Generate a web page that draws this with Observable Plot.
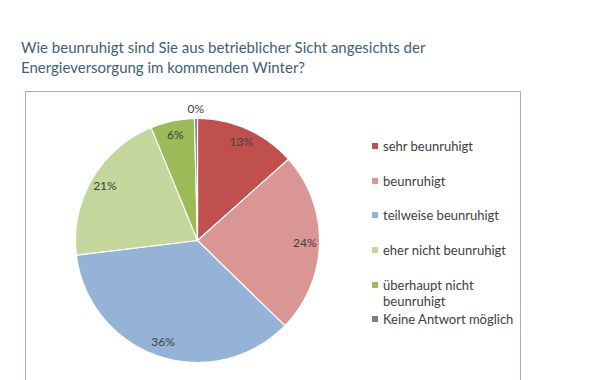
<!DOCTYPE html>
<html>
<head>
<meta charset="utf-8">
<script src="https://cdn.jsdelivr.net/npm/d3@7"></script>
<script src="https://cdn.jsdelivr.net/npm/@observablehq/plot@0.6"></script>
<style>
  html, body { margin: 0; padding: 0; background: #fff; }
  #page { position: relative; width: 600px; height: 380px; overflow: hidden; font-family: Lato, "Open Sans", sans-serif; }
  #title { position: absolute; left: 21px; top: 37px; font-size: 15px; line-height: 20px; color: #3f6175; }
  #box { position: absolute; left: 25px; top: 91px; width: 496px; height: 320px; border: 1px solid #a5adc4; box-sizing: border-box; }
  #chart { position: absolute; left: 0; top: 85px; }
  #legend { position: absolute; left: 372px; top: 138px; width: 150px; font-size: 13px; color: #404040; }
  .item { height: 34.7px; display: flex; align-items: flex-start; line-height: 16px; }
  .sw { width: 6px; height: 6px; flex: none; margin-top: 5px; margin-right: 5px; }
</style>
</head>
<body>
<div id="page">
  <div id="title">Wie beunruhigt sind Sie aus betrieblicher Sicht angesichts der<br>Energieversorgung im kommenden Winter?</div>
  <div id="box"></div>
  <div id="chart"></div>
  <div id="legend"></div>
</div>
<script>
const categories = ["sehr beunruhigt", "beunruhigt", "teilweise beunruhigt", "eher nicht beunruhigt", "überhaupt nicht beunruhigt", "Keine Antwort möglich"];
const values = [13.4, 23.9, 35.8, 20.7, 5.8, 0.4];
const labels = ["13%", "24%", "36%", "21%", "6%", "0%"];
const colors = ["#c0504d", "#d99694", "#95b3d7", "#c3d69b", "#9bbb59", "#7f7f7f"];

const cx = 197, cy = 155, r = 122;
const arcs = d3.pie().sort(null).value(d => d)(values);

const slices = arcs.map((a, i) => {
  const pts = [{x: 0, y: 0}];
  const n = Math.max(2, Math.ceil((a.endAngle - a.startAngle) / 0.01));
  for (let k = 0; k <= n; k++) {
    const t = a.startAngle + (a.endAngle - a.startAngle) * k / n;
    pts.push({x: Math.sin(t), y: Math.cos(t)});
  }
  return Plot.line(pts, {x: "x", y: "y", fill: colors[i], stroke: "#ffffff", strokeWidth: 1.2, curve: "linear-closed"});
});

const labelData = arcs.map((a, i) => {
  const m = (a.startAngle + a.endAngle) / 2;
  const f = values[i] < 2 ? 1.08 : 0.88;
  return {x: Math.sin(m) * f, y: Math.cos(m) * f, text: labels[i]};
});

const chart = Plot.plot({
  width: 600,
  height: 295,
  margin: 0,
  x: {domain: [-1, 1], range: [cx - r, cx + r], axis: null},
  y: {domain: [-1, 1], range: [cy + r, cy - r], axis: null},
  style: {fontFamily: "Lato, 'Open Sans', sans-serif", background: "transparent"},
  marks: [
    ...slices,
    Plot.text(labelData, {x: "x", y: "y", text: "text", fontSize: 12, fill: "#404040"})
  ]
});
document.getElementById("chart").appendChild(chart);

const legend = document.getElementById("legend");
categories.forEach((c, i) => {
  const item = document.createElement("div");
  item.className = "item";
  const sw = document.createElement("span");
  sw.className = "sw";
  sw.style.background = colors[i];
  const tx = document.createElement("span");
  tx.textContent = c;
  item.appendChild(sw);
  item.appendChild(tx);
  legend.appendChild(item);
});
</script>
</body>
</html>
